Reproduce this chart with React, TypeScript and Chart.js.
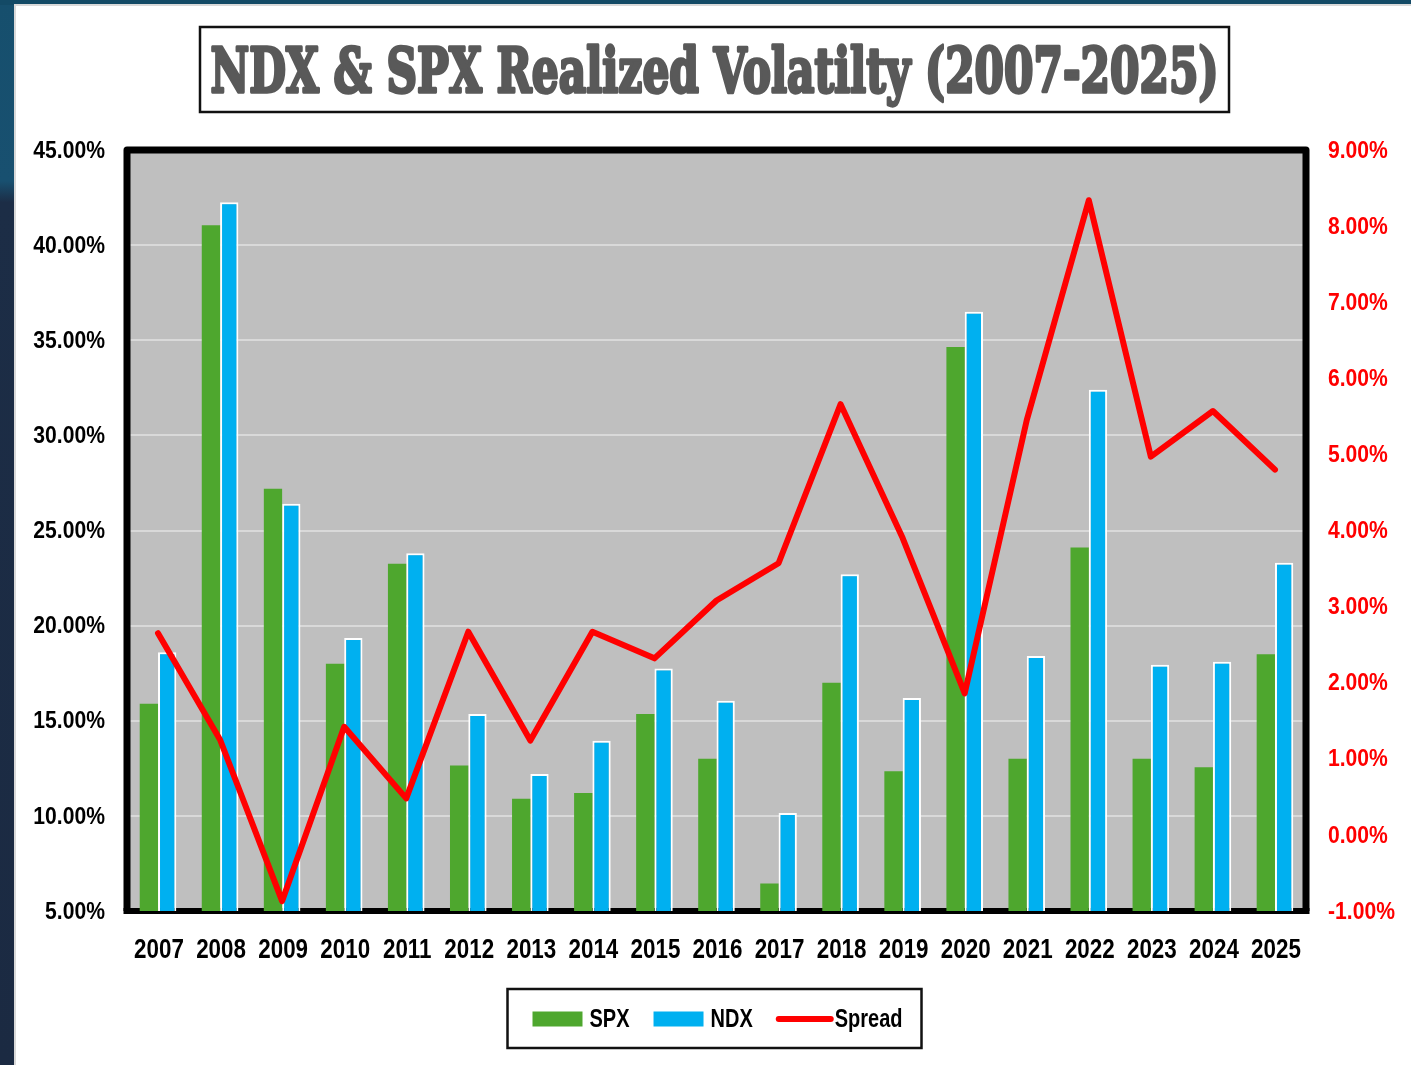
import React, { useEffect, useRef } from "react";
import { Chart, registerables } from "chart.js";

Chart.register(...registerables);

const titleText = "NDX & SPX Realized Volatilty (2007-2025)";
const years = ["2007", "2008", "2009", "2010", "2011", "2012", "2013", "2014", "2015", "2016", "2017", "2018", "2019", "2020", "2021", "2022", "2023", "2024", "2025"];
const spxVol = [15.9, 41.05, 27.2, 18.0, 23.25, 12.65, 10.9, 11.2, 15.35, 13.0, 6.45, 17.0, 12.35, 34.65, 13.0, 24.1, 13.0, 12.55, 18.5];
const ndxVol = [18.6, 42.25, 26.4, 19.35, 23.8, 15.35, 12.2, 13.95, 17.75, 16.05, 10.15, 22.7, 16.2, 36.5, 18.4, 32.4, 17.95, 18.1, 23.3];
const spreadVol = [2.65, 1.25, -0.87, 1.42, 0.48, 2.67, 1.24, 2.67, 2.32, 3.08, 3.57, 5.66, 3.9, 1.86, 5.45, 8.34, 4.97, 5.57, 4.8];
const seriesNames = ["SPX", "NDX", "Spread"];

const GREEN = "#4ea72e";
const BLUE = "#00b0f0";
const RED = "#ff0000";
const SANS = '"Liberation Sans", Arial, sans-serif';

function drawNarrow(ctx: any, text: string, x: number, y: number, align: string, size: number, squash: number, color: string) {
  ctx.save();
  ctx.font = `bold ${size}px ${SANS}`;
  ctx.fillStyle = color;
  ctx.textBaseline = "middle";
  ctx.textAlign = "left";
  const w = ctx.measureText(text).width * squash;
  const x0 = align === "right" ? x - w : align === "center" ? x - w / 2 : x;
  ctx.translate(x0, y);
  ctx.scale(squash, 1);
  ctx.fillText(text, 0, 0);
  ctx.restore();
  return w;
}

const bgPlugin = {
  id: "plotBg",
  beforeDraw(chart: any) {
    const { ctx, chartArea: a } = chart;
    ctx.save();
    ctx.fillStyle = "#bfbfbf";
    ctx.fillRect(a.left, a.top, a.right - a.left, a.bottom - a.top);
    ctx.restore();
  },
  beforeDatasetsDraw(chart: any) {
    const { ctx, chartArea: a } = chart;
    ctx.save();
    ctx.strokeStyle = "#000";
    ctx.lineJoin = "round";
    ctx.lineWidth = 7;
    ctx.beginPath();
    ctx.moveTo(a.left, a.bottom);
    ctx.lineTo(a.left, a.top);
    ctx.lineTo(a.right, a.top);
    ctx.lineTo(a.right, a.bottom);
    ctx.stroke();
    ctx.lineWidth = 6;
    ctx.beginPath();
    ctx.moveTo(a.left - 3.5, a.bottom);
    ctx.lineTo(a.right + 3.5, a.bottom);
    ctx.stroke();
    ctx.restore();
  },
};

const tickLabelPlugin = {
  id: "narrowTicks",
  afterDraw(chart: any) {
    const { ctx, chartArea: a, scales } = chart;
    const sy = scales.y;
    sy.ticks.forEach((t: any, i: number) => {
      drawNarrow(ctx, String(t.label), a.left - 22, sy.getPixelForTick(i) + 1, "right", 24, 0.88, "#000");
    });
    const sy1 = scales.y1;
    sy1.ticks.forEach((t: any, i: number) => {
      drawNarrow(ctx, String(t.label), a.right + 22, sy1.getPixelForTick(i) + 1, "left", 24, 0.88, RED);
    });
    const sx = scales.x;
    sx.ticks.forEach((t: any, i: number) => {
      drawNarrow(ctx, String(t.label), sx.getPixelForTick(i) + 1, a.bottom + 39, "center", 28, 0.8, "#000");
    });
  },
};

const titleLegendPlugin = {
  id: "titleLegend",
  afterDraw(chart: any) {
    const { ctx, chartArea: a } = chart;
    const cx = (a.left + a.right) / 2 - 2;
    ctx.save();
    ctx.strokeStyle = "#111";
    ctx.lineWidth = 2.5;
    ctx.strokeRect(cx - 514.5, 27, 1029, 85);
    ctx.font = 'bold 61px "DejaVu Serif", serif';
    const tw = ctx.measureText(titleText).width;
    ctx.translate(cx, 92);
    ctx.scale(1008 / tw, 1);
    ctx.fillStyle = "#595959";
    ctx.strokeStyle = "#595959";
    ctx.lineWidth = 3.4;
    ctx.lineJoin = "round";
    ctx.textAlign = "center";
    ctx.textBaseline = "alphabetic";
    ctx.fillText(titleText, 0, 0);
    ctx.strokeText(titleText, 0, 0);
    ctx.restore();

    ctx.save();
    const bx = cx - 207;
    const by = 989;
    ctx.strokeStyle = "#111";
    ctx.lineWidth = 2.5;
    ctx.strokeRect(bx, by, 414, 59);
    const my = by + 30;
    let x = bx + 25;
    const colors = [GREEN, BLUE, RED];
    seriesNames.forEach((name, i) => {
      if (i < 2) {
        ctx.fillStyle = colors[i];
        ctx.fillRect(x, my - 7.5, 50, 15);
        x += 57;
      } else {
        ctx.strokeStyle = RED;
        ctx.lineWidth = 6;
        ctx.lineCap = "round";
        ctx.beginPath();
        ctx.moveTo(x + 2, my);
        ctx.lineTo(x + 54, my);
        ctx.stroke();
        x += 58;
      }
      const w = drawNarrow(ctx, name, x, my + 1, "left", 25, 0.8, "#000");
      x += w + 24;
    });
    ctx.restore();
  },
};

export default function App() {
  const ref = useRef<HTMLCanvasElement>(null);
  useEffect(() => {
    document.body.style.margin = "0";
    if (!ref.current) return;
    const chart = new Chart(ref.current, {
      type: "bar",
      data: {
        labels: years,
        datasets: [
          {
            type: "line",
            label: seriesNames[2],
            data: spreadVol,
            yAxisID: "y1",
            borderColor: RED,
            backgroundColor: RED,
            borderWidth: 6,
            pointRadius: 0,
            tension: 0,
            borderCapStyle: "round",
            borderJoinStyle: "round",
            order: 0,
          } as any,
          {
            type: "bar",
            label: seriesNames[0],
            data: spxVol,
            yAxisID: "y",
            backgroundColor: GREEN,
            borderWidth: 0,
            categoryPercentage: 0.59,
            barPercentage: 1.0,
            order: 1,
          },
          {
            type: "bar",
            label: seriesNames[1],
            data: ndxVol,
            yAxisID: "y",
            backgroundColor: BLUE,
            borderColor: "#ffffff",
            borderWidth: 2,
            borderSkipped: "bottom",
            categoryPercentage: 0.59,
            barPercentage: 1.0,
            order: 2,
          },
        ],
      },
      options: {
        responsive: false,
        animation: false,
        layout: { padding: { left: 0, right: 14, top: 150, bottom: 74 } },
        plugins: {
          legend: { display: false },
          title: { display: false },
          tooltip: { enabled: false },
        },
        scales: {
          x: {
            offset: true,
            grid: { display: false, drawTicks: false },
            border: { display: false },
            ticks: { display: false, maxRotation: 0, autoSkip: false },
            afterFit(scale: any) {
              scale.height = 80;
            },
          },
          y: {
            position: "left",
            min: 5,
            max: 45,
            grid: { color: "#d9d9d9", lineWidth: 2, drawTicks: false },
            border: { display: false },
            ticks: {
              display: false,
              stepSize: 5,
              callback: (v: any) => Number(v).toFixed(2) + "%",
            },
            afterFit(scale: any) {
              scale.width = 127;
            },
          },
          y1: {
            position: "right",
            min: -1,
            max: 9,
            grid: { display: false, drawTicks: false },
            border: { display: false },
            ticks: {
              display: false,
              stepSize: 1,
              callback: (v: any) => Number(v).toFixed(2) + "%",
            },
            afterFit(scale: any) {
              scale.width = 91;
            },
          },
        },
      },
      plugins: [bgPlugin, tickLabelPlugin, titleLegendPlugin],
    });
    return () => chart.destroy();
  }, []);

  return (
    <div
      style={{
        position: "relative",
        width: 1411,
        height: 1065,
        overflow: "hidden",
        background: "linear-gradient(to bottom, #164f6d 0%, #185070 17%, #1c2d46 19%, #1b2a42 100%)",
      }}
    >
      <div style={{ position: "absolute", left: 0, top: 0, width: 1411, height: 5, background: "#134a66" }} />
      <div
        style={{
          position: "absolute",
          left: 14,
          top: 4,
          right: 0,
          bottom: 0,
          background: "#ffffff",
          borderTop: "2px solid #d9d9d9",
          borderLeft: "2px solid #d9d9d9",
        }}
      />
      <canvas ref={ref} width={1411} height={1065} style={{ position: "absolute", left: 0, top: 0, width: 1411, height: 1065 }} />
    </div>
  );
}
